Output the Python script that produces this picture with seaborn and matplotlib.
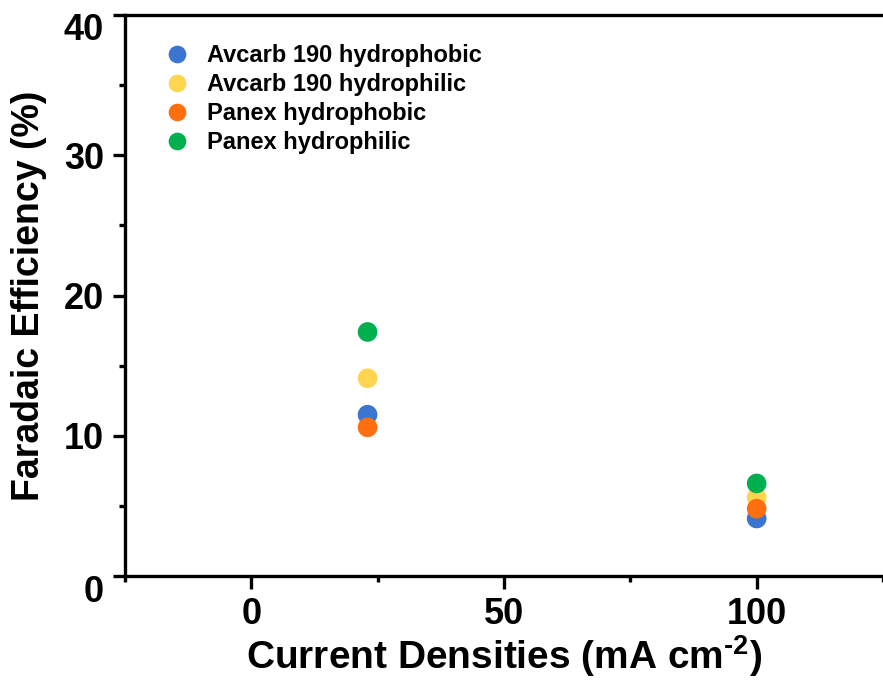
import pandas as pd
import numpy as np
import matplotlib
matplotlib.use('Agg')
import matplotlib.pyplot as plt
import matplotlib.transforms as mtransforms
import seaborn as sns
from matplotlib.ticker import MultipleLocator

# data
series = ['Avcarb 190 hydrophobic', 'Avcarb 190 hydrophilic', 'Panex hydrophobic', 'Panex hydrophilic']
current_density = [23, 100]
fe_avcarb_phobic = [11.5, 4.1]
fe_avcarb_philic = [14.1, 5.6]
fe_panex_phobic = [10.6, 4.8]
fe_panex_philic = [17.4, 6.6]
colors = ['#3A75CF', '#FFD44F', '#FF6F0F', '#00B04F']

df = pd.DataFrame({
    'x': current_density * 4,
    'y': fe_avcarb_phobic + fe_avcarb_philic + fe_panex_phobic + fe_panex_philic,
    'sample': np.repeat(series, 2),
})

sns.set_style("ticks")
plt.rcParams['font.family'] = ['Liberation Sans', 'DejaVu Sans']
plt.rcParams['font.weight'] = 'bold'
plt.rcParams['mathtext.fontset'] = 'custom'
plt.rcParams['mathtext.rm'] = 'Liberation Sans:bold'
plt.rcParams['mathtext.bf'] = 'Liberation Sans:bold'
for k in ['text.color', 'axes.labelcolor', 'xtick.color', 'ytick.color', 'axes.edgecolor']:
    plt.rcParams[k] = 'black'

fig = plt.figure(figsize=(8.83, 6.81), dpi=100)
ax = fig.add_axes([125/883, 1 - 576/681, 1 - 125/883, (576 - 15)/681])

sns.scatterplot(data=df, x='x', y='y', hue='sample', hue_order=series,
                palette=colors, s=200, edgecolor='none', ax=ax, legend=True)

ax.set_xlim(-25, 125)
ax.set_ylim(0, 40)
ax.xaxis.set_major_locator(MultipleLocator(50))
ax.xaxis.set_minor_locator(MultipleLocator(25))
ax.yaxis.set_major_locator(MultipleLocator(10))
ax.yaxis.set_minor_locator(MultipleLocator(5))

for s in ['left', 'bottom', 'top']:
    ax.spines[s].set_linewidth(2.4)
ax.spines['right'].set_visible(False)

ax.tick_params(which='major', length=9, width=2.4, labelsize=26, pad=6)
ax.tick_params(which='minor', length=4, width=2.4)
for lab in ax.get_xticklabels() + ax.get_yticklabels():
    lab.set_fontweight('bold')

# the 0 and 40 labels sit a bit lower than their ticks in the original
fig.canvas.draw()
shift = mtransforms.ScaledTranslation(0, -12/100, fig.dpi_scale_trans)
for lab in ax.get_yticklabels():
    if lab.get_text() in ('0', '40'):
        lab.set_transform(lab.get_transform() + shift)

ax.set_xlabel(r'Current Densities (mA cm$^{\text{-2}}$)', fontsize=28, fontweight='bold', labelpad=1)
ax.set_ylabel('Faradaic Efficiency (%)', fontsize=27, fontweight='bold', labelpad=12)

leg = ax.legend(loc='upper left', bbox_to_anchor=(0.025, 0.965), frameon=False,
                prop={'weight': 'bold', 'size': 17}, handletextpad=0.25,
                labelspacing=0.25, markerscale=0.9, borderaxespad=0)

plt.savefig('out.png', dpi=100)
